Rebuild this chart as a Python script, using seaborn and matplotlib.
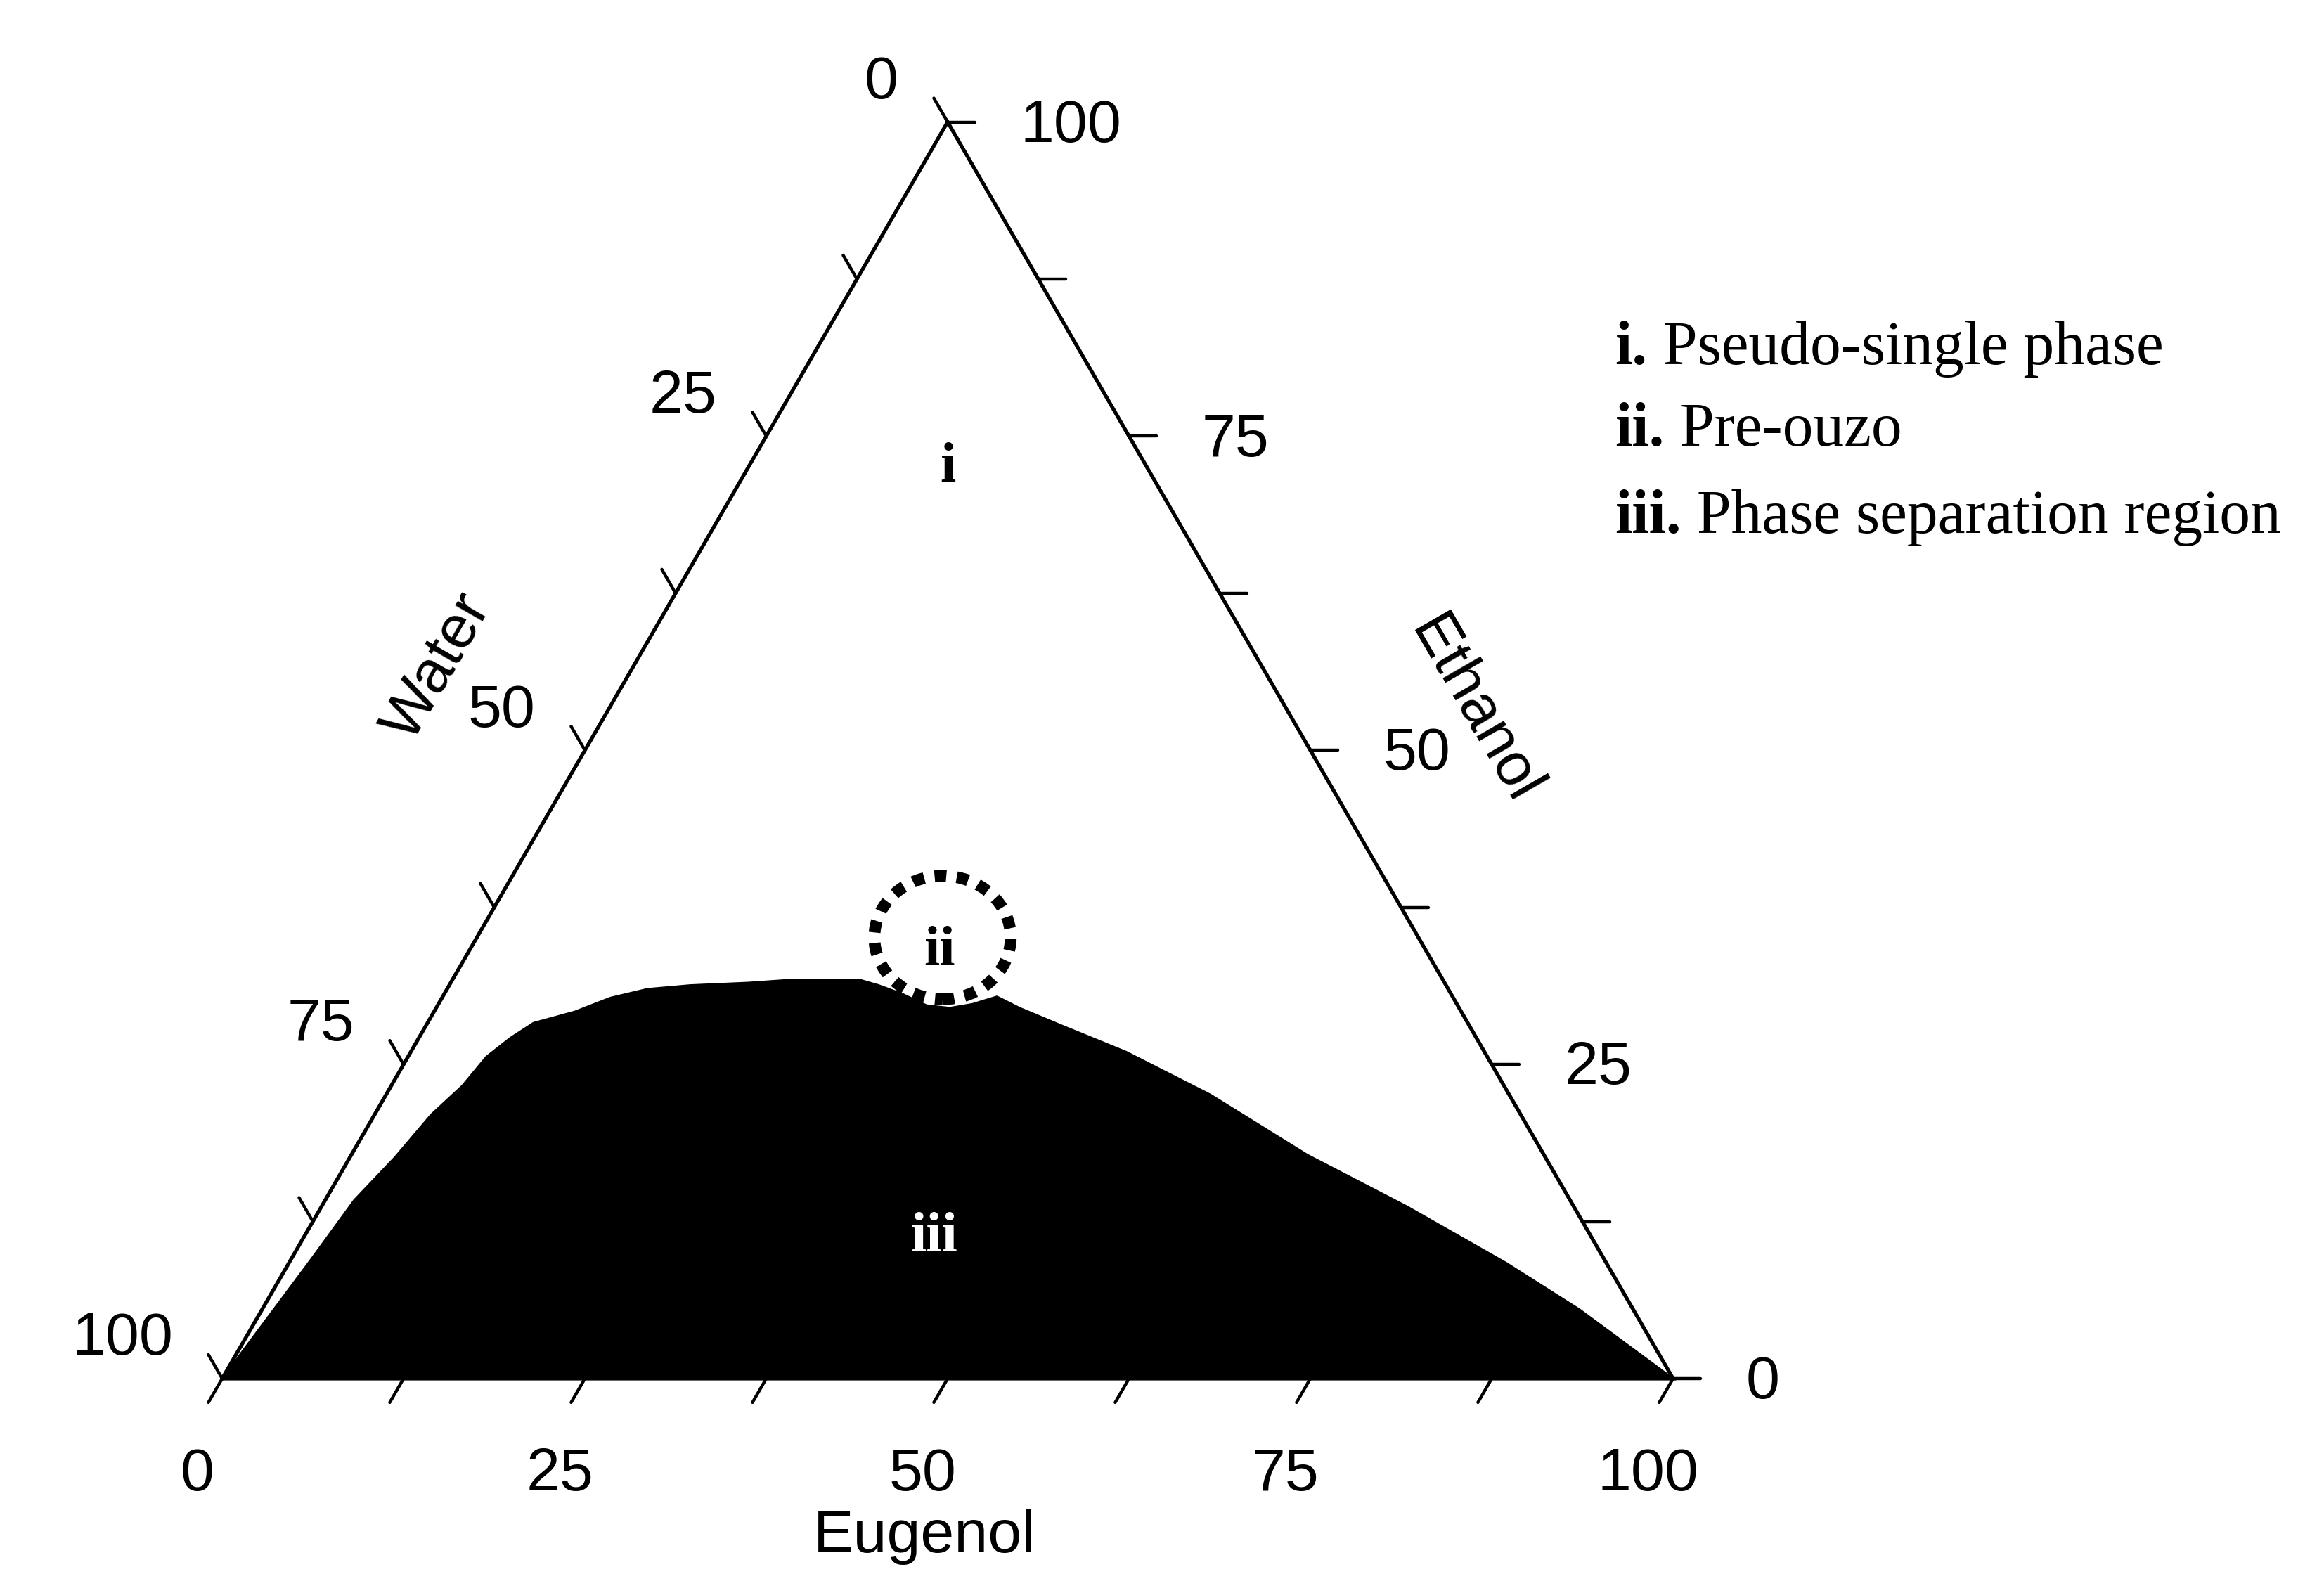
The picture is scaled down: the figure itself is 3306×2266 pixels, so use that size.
import numpy as np
import matplotlib
matplotlib.use("Agg")
import matplotlib.pyplot as plt
from matplotlib.patches import Ellipse
import seaborn as sns

# Boundary of the phase separation region (wt %)
eugenol = [0.0, 1.4, 2.0, 3.1, 3.9, 4.9, 5.4, 6.3, 7.3, 9.7, 11.6, 13.8, 16.6,
           20.5, 22.9, 28.2, 29.6, 31.6, 33.7, 35.4, 36.8, 38.2, 40.2, 43.8,
           49.3, 56.8, 65.9, 74.8, 83.9, 90.8, 100.0]
ethanol = [0.0, 9.6, 14.2, 17.6, 21.0, 23.3, 25.6, 27.1, 28.3, 29.2, 30.3, 31.0, 31.3,
           31.5, 31.7, 31.7, 31.3, 30.6, 29.7, 29.5, 29.8, 30.4, 29.5, 28.1,
           26.0, 22.6, 17.8, 13.7, 9.2, 5.5, 0.0]
water = [100 - e - t for e, t in zip(eugenol, ethanol)]

tick_values = [0, 25, 50, 75, 100]
minor_values = [12.5, 37.5, 62.5, 87.5]
region_labels = ["i", "ii", "iii"]
legend_items = [("i.", "Pseudo-single phase"),
                ("ii.", "Pre-ouzo"),
                ("iii.", "Phase separation region")]

H = np.sqrt(3) / 2


def tern(eug, eth):
    """Ternary (eugenol, ethanol) -> cartesian; water is the remainder."""
    eug = np.asarray(eug, dtype=float)
    eth = np.asarray(eth, dtype=float)
    return eug + eth / 2, eth * H


sns.set_theme(style="white")
plt.rcParams["font.family"] = ["Liberation Sans", "DejaVu Sans"]

fig = plt.figure(figsize=(16.53, 11.33), dpi=200)
ax = fig.add_axes([0, 0, 1, 1])
ax.set_xlim(-15.31, 144.86)
ax.set_ylim(-14.78, 95.01)
ax.set_aspect("equal")
ax.axis("off")

# --- phase separation region ---
bx, by = tern(eugenol, ethanol)
ax.fill(bx, by, color="black", lw=0, zorder=2)
sns.lineplot(x=bx, y=by, sort=False, estimator=None, color="black", lw=1.0, ax=ax, zorder=3)

# --- triangle frame ---
fx, fy = tern([0, 100, 0, 0], [0, 0, 100, 0])
ax.plot(fx, fy, color="black", lw=1.9, zorder=4, solid_joinstyle="miter")

L = 1.9
sans = dict(family=["Liberation Sans", "DejaVu Sans"], fontsize=31, color="black")
for v in tick_values + minor_values:
    # bottom axis (Eugenol)
    x0, y0 = tern(v, 0)
    ax.plot([x0, x0 - 0.5 * L], [y0, y0 - H * L], color="black", lw=1.6, zorder=4)
    # left axis (Water), water = v -> ethanol = 100 - v
    x1, y1 = tern(0, 100 - v)
    ax.plot([x1, x1 - 0.5 * L], [y1, y1 + H * L], color="black", lw=1.6, zorder=4)
    # right axis (Ethanol)
    x2, y2 = tern(100 - v, v)
    ax.plot([x2, x2 + L], [y2, y2], color="black", lw=1.6, zorder=4)

for v in tick_values:
    x0, y0 = tern(v, 0)
    ax.text(x0 - 1.7, -7.7, f"{v}", ha="center", va="baseline", **sans)
    x1, y1 = tern(0, 100 - v)
    ax.text(x1 - 3.4, y1 + 2.7, f"{v}", ha="right", va="center", **sans)
    x2, y2 = tern(100 - v, v)
    ax.text(x2 + 5.0, y2 - 0.3, f"{v}", ha="left", va="center", **sans)

ax.text(48.4, -11.97, "Eugenol", ha="center", va="baseline", **sans)
ax.text(14.9, 49.0, "Water", ha="center", va="center", rotation=60,
        rotation_mode="anchor", **sans)
ax.text(86.3, 46.0, "Ethanol", ha="center", va="center", rotation=-60,
        rotation_mode="anchor", **sans)

# --- region labels ---
serif = ["Liberation Serif", "DejaVu Serif"]
lab_pos = [(14.3, 71.4), (33.0, 32.9), (44.0, 10.1)]
lab_col = ["black", "black", "white"]
for lab, (e, t), c in zip(region_labels, lab_pos, lab_col):
    lx, ly = tern(e, t)
    ax.text(lx, ly, lab, ha="center", va="baseline", family=serif,
            fontweight="bold", fontsize=29, color=c, zorder=6)

# dotted circle around the pre-ouzo region
cx, cy = tern(32.1, 35.1)
ax.add_patch(Ellipse((cx, cy), width=9.4, height=8.5, fill=False, edgecolor="black",
                     lw=6.0, linestyle=(0, (1.0, 0.9)), zorder=5))

# --- legend text ---
leg_y = [69.9, 64.3, 58.3]
for (pre, txt), yy in zip(legend_items, leg_y):
    t1 = ax.text(96.0, yy, pre, ha="left", va="baseline", family=serif,
                 fontweight="bold", fontsize=31.5, color="black")
    ax.annotate(" " + txt, xy=(1, 0), xycoords=t1, ha="left", va="bottom",
                family=serif, fontsize=31.5, color="black")

fig.savefig("out.png", dpi=200, facecolor="white")
